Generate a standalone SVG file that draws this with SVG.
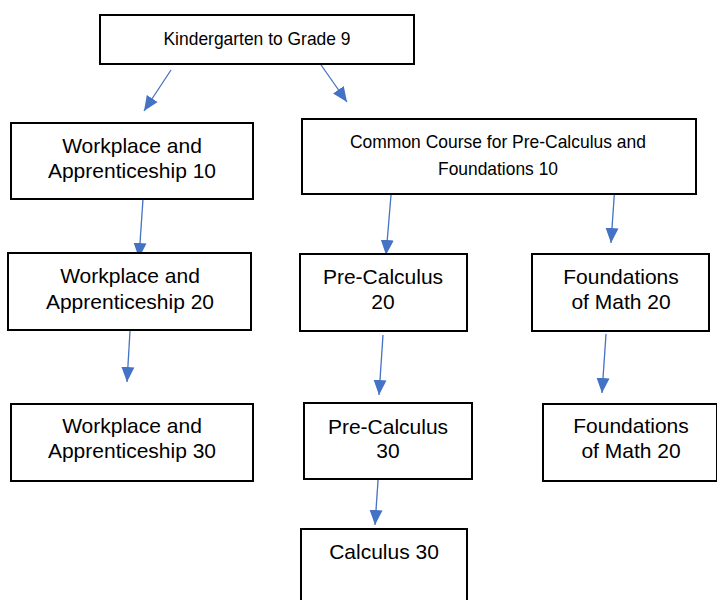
<svg xmlns="http://www.w3.org/2000/svg" width="717" height="600" viewBox="0 0 717 600">
<style>
.box{fill:#fff;stroke:#000;stroke-width:2}
.t{font-family:"Liberation Sans",Arial,sans-serif;font-size:21px;fill:#000;text-anchor:middle}
.tn{font-family:"Liberation Sans",Arial,sans-serif;font-size:19px;fill:#000;text-anchor:middle}
.c{stroke:#4472C4;stroke-width:1.3;fill:none}
</style>
<defs>
<marker id="ah" markerUnits="userSpaceOnUse" markerWidth="16" markerHeight="16" viewBox="0 0 16 16" refX="15" refY="8" orient="auto">
<path d="M0,1.5 L15,8 L0,14.5 Z" fill="#4472C4"/>
</marker>
</defs>
<rect width="717" height="600" fill="#fff"/>
<g id="connectors">
<line class="c" x1="171" y1="70" x2="144" y2="111" marker-end="url(#ah)"/>
<line class="c" x1="319" y1="62" x2="347" y2="102" marker-end="url(#ah)"/>
<line class="c" x1="143" y1="199" x2="139" y2="258" marker-end="url(#ah)"/>
<line class="c" x1="130" y1="331" x2="127" y2="382" marker-end="url(#ah)"/>
<line class="c" x1="391" y1="195" x2="386" y2="255" marker-end="url(#ah)"/>
<line class="c" x1="615" y1="184" x2="611" y2="243" marker-end="url(#ah)"/>
<line class="c" x1="383" y1="335" x2="379" y2="395" marker-end="url(#ah)"/>
<line class="c" x1="606" y1="334" x2="602" y2="393" marker-end="url(#ah)"/>
<line class="c" x1="379" y1="466" x2="375" y2="525" marker-end="url(#ah)"/>
</g>
<g id="k9">
<rect class="box" x="100" y="15" width="314" height="49"/>
<text class="tn" x="257" y="45" font-size="20" textLength="187" lengthAdjust="spacingAndGlyphs">Kindergarten to Grade 9</text>
</g>
<g id="wa10">
<rect class="box" x="11" y="123" width="242" height="76"/>
<text class="t" x="132" y="153">Workplace and</text>
<text class="t" x="132" y="178">Apprenticeship 10</text>
</g>
<g id="common10">
<rect class="box" x="302" y="119" width="394" height="75"/>
<text class="tn" x="498" y="148" textLength="296" lengthAdjust="spacingAndGlyphs">Common Course for Pre-Calculus and</text>
<text class="tn" x="498" y="175" textLength="120" lengthAdjust="spacingAndGlyphs">Foundations 10</text>
</g>
<g id="wa20">
<rect class="box" x="8" y="253" width="243" height="77"/>
<text class="t" x="130" y="283">Workplace and</text>
<text class="t" x="130" y="309">Apprenticeship 20</text>
</g>
<g id="pc20">
<rect class="box" x="300" y="254" width="167" height="77"/>
<text class="t" x="383" y="284">Pre-Calculus</text>
<text class="t" x="383" y="309">20</text>
</g>
<g id="fm20a">
<rect class="box" x="532" y="254" width="177" height="77"/>
<text class="t" x="621" y="284">Foundations</text>
<text class="t" x="621" y="309">of Math 20</text>
</g>
<g id="wa30">
<rect class="box" x="11" y="404" width="242" height="77"/>
<text class="t" x="132" y="433">Workplace and</text>
<text class="t" x="132" y="458">Apprenticeship 30</text>
</g>
<g id="pc30">
<rect class="box" x="304" y="403" width="168" height="76"/>
<text class="t" x="388" y="434">Pre-Calculus</text>
<text class="t" x="388" y="458">30</text>
</g>
<g id="fm20b">
<rect class="box" x="543" y="404" width="174" height="77"/>
<text class="t" x="631" y="433">Foundations</text>
<text class="t" x="631" y="458">of Math 20</text>
</g>
<g id="calc30">
<rect class="box" x="301" y="529" width="166" height="80"/>
<text class="t" x="384" y="559">Calculus 30</text>
</g>
</svg>
